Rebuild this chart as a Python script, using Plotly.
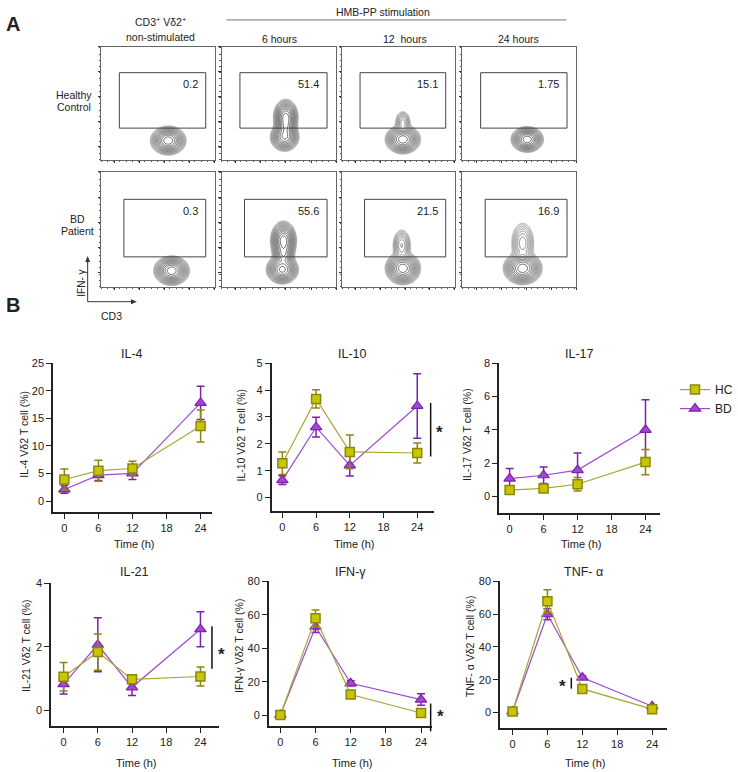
import numpy as np
import plotly.graph_objects as go

W, H = 738, 772
FONT = "Liberation Sans, Arial, sans-serif"

# ---------------- Panel B data ----------------
time_h = [0, 6, 12, 24]

il4_hc = [3.9, 5.5, 5.9, 13.6]
il4_hc_err = [1.9, 1.9, 1.3, 2.9]
il4_bd = [2.1, 4.7, 5.0, 17.8]
il4_bd_err = [0.7, 1.0, 1.1, 3.0]

il10_hc = [1.28, 3.67, 1.70, 1.66]
il10_hc_err = [0.42, 0.34, 0.63, 0.37]
il10_bd = [0.65, 2.62, 1.20, 3.41]
il10_bd_err = [0.16, 0.37, 0.40, 1.20]

il17_hc = [0.38, 0.48, 0.73, 2.06]
il17_hc_err = [0.15, 0.20, 0.40, 0.76]
il17_bd = [1.07, 1.27, 1.58, 4.0]
il17_bd_err = [0.60, 0.50, 1.03, 1.80]

il21_hc = [1.06, 1.84, 0.98, 1.07]
il21_hc_err = [0.45, 0.57, 0.10, 0.30]
il21_bd = [0.83, 2.07, 0.73, 2.56]
il21_bd_err = [0.31, 0.85, 0.26, 0.55]

ifng_hc = [0.3, 58, 12.5, 1.5]
ifng_hc_err = [0.2, 5.0, 1.2, 0.8]
ifng_bd = [0.3, 53, 19.2, 9.5]
ifng_bd_err = [0.2, 3.5, 1.5, 3.4]

tnfa_hc = [0.6, 68, 14.4, 2.0]
tnfa_hc_err = [0.3, 7.0, 1.0, 0.8]
tnfa_bd = [0.6, 60, 21.3, 3.8]
tnfa_bd_err = [0.3, 3.4, 1.0, 0.8]

cytokines = ["IL-4", "IL-10", "IL-17", "IL-21", "IFN-γ", "TNF- α"]
y_titles = ["IL-4 Vδ2 T cell (%)", "IL-10 Vδ2 T cell (%)", "IL-17 Vδ2 T cell (%)",
            "IL-21 Vδ2 T cell (%)", "IFN-γ Vδ2 T cell (%)", "TNF- α Vδ2 T cell (%)"]
hc_series = [il4_hc, il10_hc, il17_hc, il21_hc, ifng_hc, tnfa_hc]
hc_errors = [il4_hc_err, il10_hc_err, il17_hc_err, il21_hc_err, ifng_hc_err, tnfa_hc_err]
bd_series = [il4_bd, il10_bd, il17_bd, il21_bd, ifng_bd, tnfa_bd]
bd_errors = [il4_bd_err, il10_bd_err, il17_bd_err, il21_bd_err, ifng_bd_err, tnfa_bd_err]
x_ticks = [0, 6, 12, 18, 24]

# ---------------- Panel A data ----------------
col_titles = ["6 hours", "12  hours", "24 hours"]
hc_gate_pct = ["0.2", "51.4", "15.1", "1.75"]
bd_gate_pct = ["0.3", "55.6", "21.5", "16.9"]
# contour populations per plot: (cx, cy, sx, sy, weight) in 0-100 frame units
hc_pops = [
    [(59, 17, 5.5, 4.5, 1.0)],
    [(55, 20, 4.5, 4.5, 0.9), (56, 38, 3.8, 5.5, 1.0), (56, 29, 3.5, 4.5, 0.6)],
    [(54, 18, 5.5, 4.5, 1.0), (54, 33, 3.0, 4.5, 0.15)],
    [(57, 18, 5.0, 4.0, 1.0)],
]
bd_pops = [
    [(62, 14, 5.5, 4.5, 1.0)],
    [(53, 15, 5.0, 4.5, 0.9), (54, 40, 4.0, 6.0, 1.0), (54, 28, 3.5, 4.5, 0.5)],
    [(54, 16, 5.5, 5.0, 1.0), (53, 36, 3.5, 6.0, 0.18)],
    [(53, 16, 6.0, 5.0, 1.0), (53, 38, 4.5, 8.0, 0.16)],
]


def px(x):
    return x / W


def py(y):
    return 1 - y / H


fig = go.Figure()
layout = {}
shapes = []
annotations = []


def ann(text, x, y, size=11, bold=False, **kw):
    d = dict(text=f"<b>{text}</b>" if bold else text, x=px(x), y=py(y), xref="paper", yref="paper",
             xanchor="center", yanchor="middle",
             showarrow=False, font=dict(family=FONT, size=size, color="#222"))
    d.update(kw)
    annotations.append(d)


# ---------------- Panel A: flow plots ----------------
frame_x = [(105, 223), (230, 349), (355, 472), (480, 598)]
frame_y = [(41, 155), (167, 283)]
gates = [(16, 92, 28, 77), (20, 92, 26, 76)]
grid = np.linspace(0, 100, 201)
GX, GY = np.meshgrid(grid, grid)

ax = 0
for r, (pops_row, pct_row) in enumerate([(hc_pops, hc_gate_pct), (bd_pops, bd_gate_pct)]):
    for c in range(4):
        ax += 1
        xa, ya = f"x{ax}", f"y{ax}"
        dens = np.zeros_like(GX)
        for (cx, cy, sx, sy, w) in pops_row[c]:
            dens += w * np.exp(-((GX - cx) ** 2 / (2 * sx ** 2) + (GY - cy) ** 2 / (2 * sy ** 2)))
        z = np.log10(dens / dens.max() + 1e-9)
        fig.add_trace(go.Contour(
            x=grid, y=grid, z=z, xaxis=xa, yaxis=ya, showscale=False, hoverinfo="skip",
            contours=dict(coloring="lines", start=-1.8, end=-0.02, size=0.13),
            colorscale=[[0, "#9a9a9a"], [1, "#222222"]], line=dict(width=0.7)))
        axis_common = dict(range=[0, 100], showgrid=False, zeroline=False, showline=True,
                           linecolor="#666", linewidth=1, mirror=True, showticklabels=False,
                           ticks="outside", ticklen=2.5, tickcolor="#333", tickwidth=1,
                           tickmode="linear", tick0=12, dtick=22,
                           minor=dict(ticks="outside", ticklen=1.5, tickcolor="#555", dtick=5.5))
        layout[f"xaxis{ax}"] = dict(axis_common, domain=[px(frame_x[c][0]), px(frame_x[c][1])], anchor=ya)
        layout[f"yaxis{ax}"] = dict(axis_common, domain=[py(frame_y[r][1]), py(frame_y[r][0])], anchor=xa)
        gx0, gx1, gy0, gy1 = gates[r]
        shapes.append(dict(type="rect", xref=xa, yref=ya, x0=gx0, x1=gx1, y0=gy0, y1=gy1,
                           line=dict(color="#444", width=1)))
        annotations.append(dict(text=pct_row[c], x=87, y=gy1 - 10, xref=xa, yref=ya,
                                xanchor="right", yanchor="middle",
                                showarrow=False, font=dict(family=FONT, size=11, color="#222")))

# Panel A texts
ann("A", 14, 18, size=20, bold=True)
ann("B", 14, 301, size=20, bold=True)
ann("CD3<sup>+</sup> Vδ2<sup>+</sup>", 167, 16, size=10.5)
ann("non-stimulated", 167, 31, size=10.5)
ann("HMB-PP stimulation", 398, 6, size=10.5)
shapes.append(dict(type="line", xref="paper", yref="paper", x0=px(235), x1=px(588), y0=py(14), y1=py(14),
                   line=dict(color="#777", width=1)))
for t, xc in zip(col_titles, [290, 420, 538]):
    ann(t, xc, 33, size=10.5)
ann("Healthy", 77, 90, size=10.5)
ann("Control", 77, 102, size=10.5)
ann("BD", 80, 215, size=10.5)
ann("Patient", 80, 227, size=10.5)
# axis arrows
shapes.append(dict(type="line", xref="paper", yref="paper", x0=px(91), x1=px(91), y0=py(298), y1=py(256),
                   line=dict(color="#333", width=1)))
shapes.append(dict(type="line", xref="paper", yref="paper", x0=px(91), x1=px(138), y0=py(298), y1=py(298),
                   line=dict(color="#333", width=1)))
shapes.append(dict(type="path", xref="paper", yref="paper",
                   path=f"M {px(88.5)} {py(258)} L {px(93.5)} {py(258)} L {px(91)} {py(252)} Z",
                   fillcolor="#333", line=dict(width=0)))
shapes.append(dict(type="path", xref="paper", yref="paper",
                   path=f"M {px(136)} {py(295.5)} L {px(136)} {py(300.5)} L {px(142)} {py(298)} Z",
                   fillcolor="#333", line=dict(width=0)))
ann("IFN- γ", 85, 279, size=10, textangle=-90)
ann("CD3", 116, 312, size=10.5)

# ---------------- Panel B: line charts ----------------
HC_FILL, HC_EDGE, HC_LINE = "#c9c500", "#8a870f", "#a8a532"
BD_FILL, BD_EDGE, BD_LINE = "#a346d6", "#7d22a8", "#a04ad0"

panels = [
    # x0, x1, xrange, ytop, ybottom, yrange, dtick, ytitle_x
    (55, 220, [-2, 26], 360, 510, [-2, 25], 5, 25),
    (282, 450, [-1.9, 26.9], 360, 509, [-0.5, 5], 1, 250),
    (518, 685, [-1.87, 26.55], 360, 511, [-1, 8], 2, 484),
    (53, 227, [-2.2, 27.2], 582, 726, [-0.5, 4], 2, 27),
    (279, 448, [-1.97, 25.8], 580, 726, [-6.5, 80], 20, 248),
    (519, 692, [-2.15, 26.5], 580, 728, [-9.7, 80], 20, 488),
]

for i, (x0, x1, xr, yt, yb, yr, dt, ytx) in enumerate(panels):
    ax += 1
    xa, ya = f"x{ax}", f"y{ax}"
    fig.add_trace(go.Scatter(
        x=time_h, y=bd_series[i], xaxis=xa, yaxis=ya, mode="lines+markers", name="BD",
        showlegend=(i == 0), legendrank=2,
        line=dict(color=BD_LINE, width=1.2),
        marker=dict(symbol="triangle-up", size=10, color=BD_FILL, line=dict(color=BD_EDGE, width=1.2)),
        error_y=dict(type="data", array=bd_errors[i], color=BD_EDGE, thickness=1.5, width=4)))
    fig.add_trace(go.Scatter(
        x=time_h, y=hc_series[i], xaxis=xa, yaxis=ya, mode="lines+markers", name="HC",
        showlegend=(i == 0), legendrank=1,
        line=dict(color=HC_LINE, width=1.2),
        marker=dict(symbol="square", size=9, color=HC_FILL, line=dict(color=HC_EDGE, width=1.5)),
        error_y=dict(type="data", array=hc_errors[i], color=HC_EDGE, thickness=1.5, width=4)))
    base = dict(showgrid=False, zeroline=False, showline=True, linecolor="#222", linewidth=1.5,
                ticks="outside", ticklen=5, tickwidth=1.3, tickcolor="#222",
                tickfont=dict(family=FONT, size=11, color="#222"))
    layout[f"xaxis{ax}"] = dict(base, domain=[px(x0), px(x1)], range=xr, anchor=ya,
                                tickmode="array", tickvals=x_ticks)
    layout[f"yaxis{ax}"] = dict(base, domain=[py(yb), py(yt)], range=yr, anchor=xa,
                                tickmode="linear", tick0=0, dtick=dt)
    row_title_y = 351 if i < 3 else 570
    time_y = 542 if i < 3 else 763
    ann(cytokines[i], (x0 + x1) / 2, row_title_y, size=12.5)
    ann("Time (h)", (x0 + x1) / 2 + 2, time_y, size=11)
    ann(y_titles[i], ytx, 432 if i < 3 else 645, size=10.5, textangle=-90)

# significance marks
for (lx, ly0, ly1, sx, sy) in [(447, 400, 454, 456, 430), (220, 625, 668, 230, 654),
                               (447, 703, 731, 457, 716), (593, 677, 688, 584, 686)]:
    shapes.append(dict(type="line", xref="paper", yref="paper", x0=px(lx), x1=px(lx), y0=py(ly0), y1=py(ly1),
                       line=dict(color="#111", width=1.5)))
    ann("*", sx, sy, size=17, bold=True)

layout.update(dict(
    width=W, height=H, margin=dict(l=0, r=0, t=0, b=0),
    paper_bgcolor="white", plot_bgcolor="white",
    shapes=shapes, annotations=annotations,
    showlegend=True,
    legend=dict(x=px(701), y=py(372), xanchor="left", yanchor="top", itemwidth=30,
                font=dict(family=FONT, size=12, color="#222"), bgcolor="rgba(0,0,0,0)",
                tracegroupgap=2, itemclick=False),
    font=dict(family=FONT),
))
fig.update_layout(layout)
fig.write_html("out.html")
